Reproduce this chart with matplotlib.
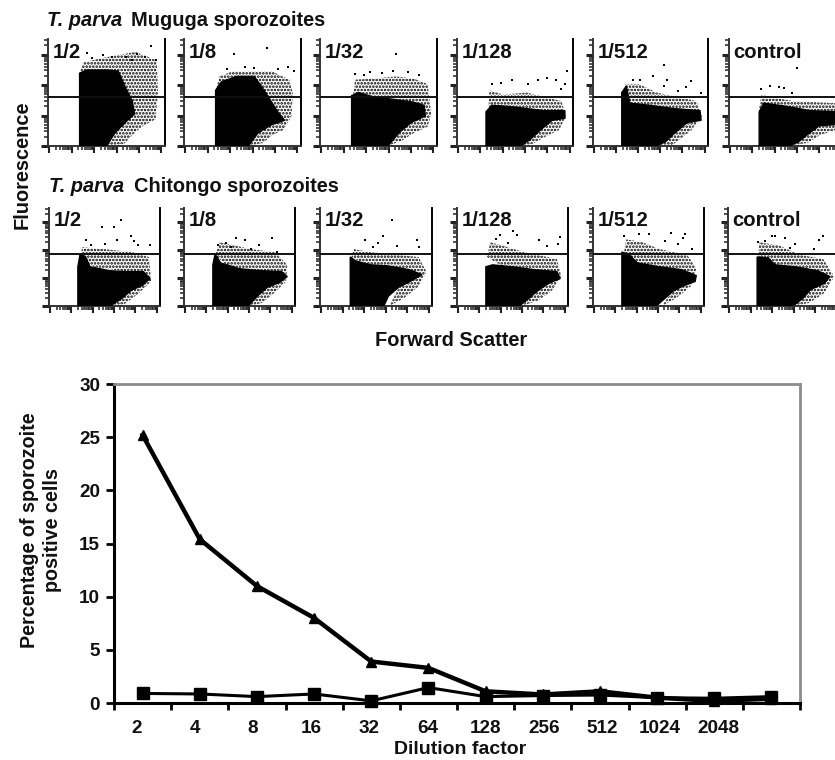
import matplotlib
matplotlib.use("Agg")
import matplotlib.pyplot as plt
from matplotlib.patches import Polygon
from matplotlib.transforms import ScaledTranslation
import numpy as np

plt.rcParams['font.family'] = ['Liberation Sans', 'DejaVu Sans']
plt.rcParams['hatch.linewidth'] = 1.25

W, H = 835, 760

# ---- line chart data
dilution_labels = ["2", "4", "8", "16", "32", "64", "128", "256", "512", "1024", "2048", ""]
muguga_pct = [25.2, 15.4, 11.0, 8.0, 3.9, 3.3, 1.1, 0.8, 1.1, 0.5, 0.2, 0.4]
chitongo_pct = [0.9, 0.85, 0.6, 0.85, 0.2, 1.45, 0.6, 0.7, 0.75, 0.5, 0.45, 0.6]
y_ticks = [0, 5, 10, 15, 20, 25, 30]

# ---- flow panels: labels, and outlines
# (FSC %, fluorescence %) of the axis range
panel_labels = ["1/2", "1/8", "1/32", "1/128", "1/512", "control"]

mug_core = [
    [(27,0),(27,68),(33,71),(50,71),(60,70),(66,55),(72,42),(74,30),(66,22),(57,12),(50,0)],
    [(27,0),(27,52),(32,60),(45,65),(60,65),(66,56),(72,46),(80,32),(86,24),(75,20),(63,12),(55,0)],
    [(27,0),(27,47),(33,50),(45,46),(60,44),(80,41),(89,38),(90,28),(78,22),(68,13),(58,0)],
    [(25,0),(25,32),(30,38),(45,37),(60,35),(75,33),(93,33),(93,26),(82,24),(72,15),(63,6),(55,0)],
    [(25,0),(25,50),(29,56),(32,40),(50,38),(70,35),(93,33),(94,24),(82,22),(72,13),(63,4),(55,0)],
    [(26,0),(26,32),(30,40),(50,37),(70,33),(92,32),(92,20),(78,19),(68,11),(60,4),(52,0)],
]
mug_fringe = [
    [(27,68),(30,78),(45,82),(60,85),(75,88),(93,80),(94,50),(92,25),(80,18),(70,8),(65,2),(50,0),(60,30),(60,65)],
    [(28,55),(30,65),(42,70),(60,70),(75,70),(90,62),(93,50),(92,28),(85,15),(75,10),(68,3),(55,0),(70,25),(62,55)],
    [(28,45),(30,62),(45,63),(65,65),(80,63),(92,58),(95,30),(92,18),(80,12),(70,5),(58,0),(75,25),(88,36),(50,42)],
    [(27,35),(28,52),(40,48),(60,50),(90,42),(94,28),(88,15),(75,8),(65,2),(55,0),(70,20),(90,30),(50,34)],
    [(27,40),(28,58),(40,58),(55,50),(90,42),(95,28),(85,14),(75,6),(68,0),(55,0),(70,18),(90,30),(45,36)],
    [(26,35),(28,48),(40,45),(55,42),(92,40),(92,15),(78,10),(68,3),(52,0),(68,15),(90,28),(45,34)],
]
mug_dots = [
    [(88,93),(33,87),(47,85),(76,86),(83,83),(92,80),(67,83),(38,82),(55,83),(72,80)],
    [(43,86),(71,92),(89,74),(94,70),(37,72),(60,73),(80,72),(52,74)],
    [(65,86),(30,67),(43,69),(62,70),(75,69),(53,68),(85,66),(38,66)],
    [(95,70),(85,62),(77.5,63.5),(70,62),(47,62),(38,59),(30,58),(61,58),(93,58),(90,53)],
    [(62,76),(64,62),(35,62),(41,62),(52,65),(85.5,61),(74,51),(94,50),(81,55),(62,56)],
    [(59,73),(35.5,56),(28,53),(43,55),(47,54),(54,50)],
]

chi_core = [
    [(26,0),(26,40),(28,53),(33,50),(37,40),(55,36),(70,35),(85,35),(91,28),(84,21),(74,16),(66,8),(55,0)],
    [(26,0),(26,42),(28,53),(33,44),(50,38),(70,36),(88,35),(93,30),(86,24),(75,19),(66,10),(58,0)],
    [(27,0),(27,50),(32,46),(45,42),(60,41),(80,37),(91,32),(82,26),(70,19),(61,10),(57,0)],
    [(26,0),(26,40),(32,42),(50,40),(70,37),(90,35),(93,28),(82,23),(72,15),(63,6),(56,0)],
    [(26,0),(26,55),(32,53),(40,44),(60,40),(80,37),(93,31),(92,25),(82,21),(72,15),(63,6),(57,0)],
    [(26,0),(26,50),(36,49),(42,42),(60,40),(80,36),(91,30),(86,23),(74,17),(67,8),(58,0)],
]
chi_fringe = [
    [(28,50),(30,60),(50,58),(75,55),(90,50),(92,25),(80,12),(68,2),(55,0),(72,18),(88,32),(40,40)],
    [(28,52),(32,65),(45,62),(60,58),(82,55),(93,42),(92,25),(80,12),(70,3),(58,0),(75,20),(90,33),(40,40)],
    [(28,50),(30,58),(45,55),(70,52),(88,50),(95,35),(88,20),(75,8),(62,0),(70,18),(88,32),(45,40)],
    [(27,50),(30,65),(40,62),(60,55),(90,48),(94,30),(85,15),(72,5),(58,0),(72,16),(90,32),(45,38)],
    [(28,55),(30,68),(45,65),(60,58),(85,52),(93,38),(88,20),(75,8),(62,0),(72,16),(90,30),(45,40)],
    [(27,50),(28,65),(45,62),(65,52),(85,48),(95,30),(85,12),(72,3),(58,0),(70,15),(88,28),(45,38)],
]
chi_dots = [
    [(65,88),(59,81),(48,81),(74,71),(61,67),(33,67),(77,66),(91,62),(80,62),(38,62),(50,63)],
    [(79,69),(47,69),(55,67),(38,64),(31,62),(68,62),(84,55),(42,60),(60,58)],
    [(64,88),(56,71),(40,67),(52,64),(47,60),(69,61),(87,67),(88,60)],
    [(50,77),(54,72),(39,72),(74,67),(93,70),(91,63),(46,64),(81,61),(35,68)],
    [(70,75),(83,73),(50,73),(41,73),(28,71),(81,69),(77,63),(65,66),(89,58)],
    [(39,71),(42,71),(51,69),(27,65),(60,63),(85,71),(81,67),(77,58),(55,59),(33,66)],
]

# ---- pixel boxes
top_lefts = [48, 184, 320, 457, 593, 729]
top_rights = [165, 301, 437, 573, 708, 845]
bot_lefts = [49, 184, 320, 457, 593, 728]
bot_rights = [160, 295, 432, 568, 704, 840]

fig = plt.figure(figsize=(W / 100, H / 100), dpi=100, facecolor='white')


def box(l, t, r, b):
    return [l / W, 1 - b / H, (r - l) / W, (b - t) / H]


dec_y = 28.5
dec_x = 19.2
log_steps = np.log10(np.arange(2, 10))


def panel(rect, label, core, fringe, dots, gate):
    ax = fig.add_axes(box(*rect))
    ax.set_xlim(0, 100)
    ax.set_ylim(0, 100)
    for s in ('left', 'bottom', 'right'):
        ax.spines[s].set_linewidth(1.4)
    ax.spines['top'].set_visible(False)
    ax.spines['left'].set_color('#333333')
    ax.spines['bottom'].set_color('#333333')
    ax.add_patch(Polygon(fringe, closed=True, facecolor='none', edgecolor='black',
                         hatch='.....', linewidth=0, zorder=2))
    ax.add_patch(Polygon(core, closed=True, facecolor='black', edgecolor='black',
                         linewidth=1.0, zorder=3))
    xs, ys = zip(*dots)
    ax.scatter(xs, ys, s=3.0, marker='s', color='black', linewidths=0, zorder=3, clip_on=True)
    ax.axhline(gate, color='#111111', lw=1.4, zorder=4)
    ax.text(0.04, 0.875, label, transform=ax.transAxes, fontsize=14.6, fontweight='bold',
            ha='left', va='center', color='#111111', zorder=5)
    ymaj = [dec_y * i for i in range(4)]
    ymin = [dec_y * (i + s) for i in range(4) for s in log_steps if dec_y * (i + s) < 100]
    xmaj = [1 + dec_x * i for i in range(6)]
    xmin = [1 + dec_x * (i + s) for i in range(5) for s in log_steps]
    ax.set_yticks(ymaj, [''] * len(ymaj))
    ax.set_yticks(ymin, minor=True)
    ax.set_xticks(xmaj, [''] * len(xmaj))
    ax.set_xticks(xmin, minor=True)
    ax.tick_params(axis='y', which='major', length=5, width=2.2, color='#222222')
    ax.tick_params(axis='x', which='major', length=5, width=1.5, color='#222222')
    ax.tick_params(axis='both', which='minor', length=3, width=1.1, color='#222222')


for i in range(6):
    panel((top_lefts[i], 39, top_rights[i], 146), panel_labels[i],
          mug_core[i], mug_fringe[i], mug_dots[i], 45.8)
    panel((bot_lefts[i], 208, bot_rights[i], 306), panel_labels[i],
          chi_core[i], chi_fringe[i], chi_dots[i], 53)


def ftext(px, py, s, **kw):
    kw.setdefault('fontsize', 14.4)
    kw.setdefault('fontweight', 'bold')
    kw.setdefault('color', '#111111')
    kw.setdefault('va', 'center')
    fig.text(px / W, 1 - py / H, s, **kw)


ftext(47, 20, "T. parva", style='italic')
ftext(131, 20, "Muguga sporozoites")
ftext(49, 187, "T. parva", style='italic')
ftext(134, 187, "Chitongo sporozoites")
ftext(22, 165, "Fluorescence", rotation=90, ha='center')
ftext(451, 340, "Forward Scatter", ha='center')

# ---- main chart
ax = fig.add_axes(box(114, 384, 800, 703))
cats = np.arange(len(dilution_labels))
ax.set_xlim(-0.5, 11.5)
ax.set_ylim(0, 30)
ax.plot(cats, chitongo_pct, color='black', lw=2.2, marker='s', ms=9, clip_on=False, zorder=3)
ax.plot(cats, muguga_pct, color='black', lw=3.2, marker='^', ms=7.5, clip_on=False, zorder=4)

ax.set_yticks(y_ticks)
ax.set_yticklabels([str(v) for v in y_ticks], fontsize=13.6, fontweight='bold', color='#111111')
ax.set_xticks(np.arange(-0.5, 12, 1), [''] * 13)
ax.set_xticks(cats, dilution_labels, minor=True, fontsize=13.6, fontweight='bold', color='#111111')
ax.tick_params(axis='y', which='major', length=6, width=2, pad=4)
ax.tick_params(axis='x', which='major', length=5, width=2)
ax.tick_params(axis='x', which='minor', length=0, pad=12)
for i, lab in enumerate(ax.get_xticklabels(minor=True)):
    # the reference's labels sit a little wider apart than its categories
    shift = ScaledTranslation((-6 + i) / 100, 0, fig.dpi_scale_trans)
    lab.set_transform(lab.get_transform() + shift)

ax.spines['left'].set_linewidth(2.2)
ax.spines['bottom'].set_linewidth(2.2)
ax.spines['top'].set_linewidth(2)
ax.spines['right'].set_linewidth(2)
ax.spines['top'].set_color('#8c8c8c')
ax.spines['right'].set_color('#8c8c8c')
ftext(41, 530, "Percentage of sporozoite\npositive cells", rotation=90, ha='center',
      multialignment='center', fontsize=14.2, linespacing=1.3)
ftext(460, 749, "Dilution factor", ha='center', fontsize=14)

fig.savefig("out.png", dpi=100, facecolor='white')
